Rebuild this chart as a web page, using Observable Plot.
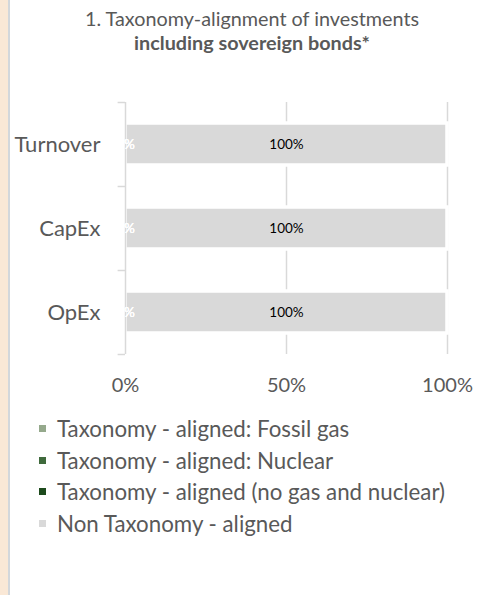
<!DOCTYPE html>
<html><head><meta charset="utf-8">
<script src="https://cdn.jsdelivr.net/npm/d3@7"></script>
<script src="https://cdn.jsdelivr.net/npm/@observablehq/plot@0.6"></script>
<style>
html,body{margin:0;padding:0;background:#fff;}
body{font-family:Lato,"Open Sans",sans-serif;color:#595959;}
#wrap{position:relative;width:478px;height:595px;overflow:hidden;background:#fff;}
#strip{position:absolute;left:0;top:0;width:8px;height:595px;background:#fae8d6;border-right:2px solid #d3d7db;}
#title{position:absolute;left:52px;width:400px;top:6px;text-align:center;font-size:19.8px;line-height:24px;color:#595959;}
#title b{font-weight:700;}
#chart{position:absolute;left:0;top:60px;}
#legend{position:absolute;left:39px;top:413px;font-size:22.3px;line-height:31.6px;color:#595959;}
.item{display:flex;align-items:center;white-space:nowrap;}
.sw{width:7px;height:7px;margin-right:11px;flex:none;}
</style>
</head><body>
<div id="wrap">
  <div id="strip"></div>
  <div id="title"></div>
  <div id="chart"></div>
  <div id="legend"></div>
</div>
<script>
const titleLine1 = "1. Taxonomy-alignment of investments";
const titleLine2 = "including sovereign bonds*";
const categories = ["Turnover", "CapEx", "OpEx"];
const seriesNames = [
  "Taxonomy - aligned: Fossil gas",
  "Taxonomy - aligned: Nuclear",
  "Taxonomy - aligned (no gas and nuclear)",
  "Non Taxonomy - aligned"
];
const seriesColors = ["#95a98c", "#3f6a3c", "#1d4a1c", "#d9d9d9"];
const fossilGas = [0, 0, 0];
const nuclear = [0, 0, 0];
const alignedNoGasNuclear = [0, 0, 0];
const nonAligned = [100, 100, 100];
const xTicks = [0, 50, 100];

const seriesValues = [fossilGas, nuclear, alignedNoGasNuclear, nonAligned];
const rows = [];
categories.forEach((c, i) => {
  seriesNames.forEach((s, j) => {
    rows.push({category: c, series: s, value: seriesValues[j][i], color: seriesColors[j],
      labelColor: j === 3 ? "#000000" : "#ffffff"});
  });
});

document.getElementById("title").innerHTML = titleLine1 + "<br><b>" + titleLine2 + "</b>";

const bw = 84;
const chart = Plot.plot({
  width: 478,
  height: 340,
  marginLeft: 125,
  marginRight: 31,
  marginTop: 42,
  marginBottom: 46,
  style: {fontFamily: "Lato, 'Open Sans', sans-serif", color: "#595959", background: "transparent"},
  x: {domain: [0, 100]},
  y: {domain: categories, padding: 0},
  color: {type: "identity"},
  marks: [
    Plot.ruleX(xTicks.filter(d => d > 0), {stroke: "#d9d9d9", strokeWidth: 1.5}),
    Plot.barX(rows.filter(d => d.value > 0), Plot.stackX({
      x: "value", y: "category", fill: "color", order: seriesNames,
      insetTop: 21, insetBottom: 21, stroke: "#ffffff", strokeWidth: 3.5
    })),
    Plot.ruleX([0], {stroke: "#d9d9d9", strokeWidth: 1.5}),
    Plot.ruleY(categories, {y: d => d, x1: -2.3, x2: 0, dy: -bw / 2, stroke: "#d9d9d9", strokeWidth: 1.5}),
    Plot.ruleY(categories.slice(-1), {y: d => d, x1: -2.3, x2: 0, dy: bw / 2, stroke: "#d9d9d9", strokeWidth: 1.5}),
    Plot.text(rows, Plot.stackX({
      x: "value", y: "category", order: seriesNames,
      text: d => d.value + "%", fill: "labelColor", fontSize: 13.5
    })),
    Plot.axisX(xTicks, {tickFormat: d => d + "%", tickSize: 0, tickPadding: 23, fontSize: 20, fill: "#595959", label: null}),
    Plot.axisY({tickSize: 0, tickPadding: 25, fontSize: 22, fill: "#595959", label: null})
  ]
});
document.getElementById("chart").appendChild(chart);

const legend = document.getElementById("legend");
seriesNames.forEach((s, j) => {
  const it = document.createElement("div");
  it.className = "item";
  const sw = document.createElement("span");
  sw.className = "sw";
  sw.style.background = seriesColors[j];
  it.appendChild(sw);
  it.appendChild(document.createTextNode(s));
  legend.appendChild(it);
});
</script>
</body></html>
